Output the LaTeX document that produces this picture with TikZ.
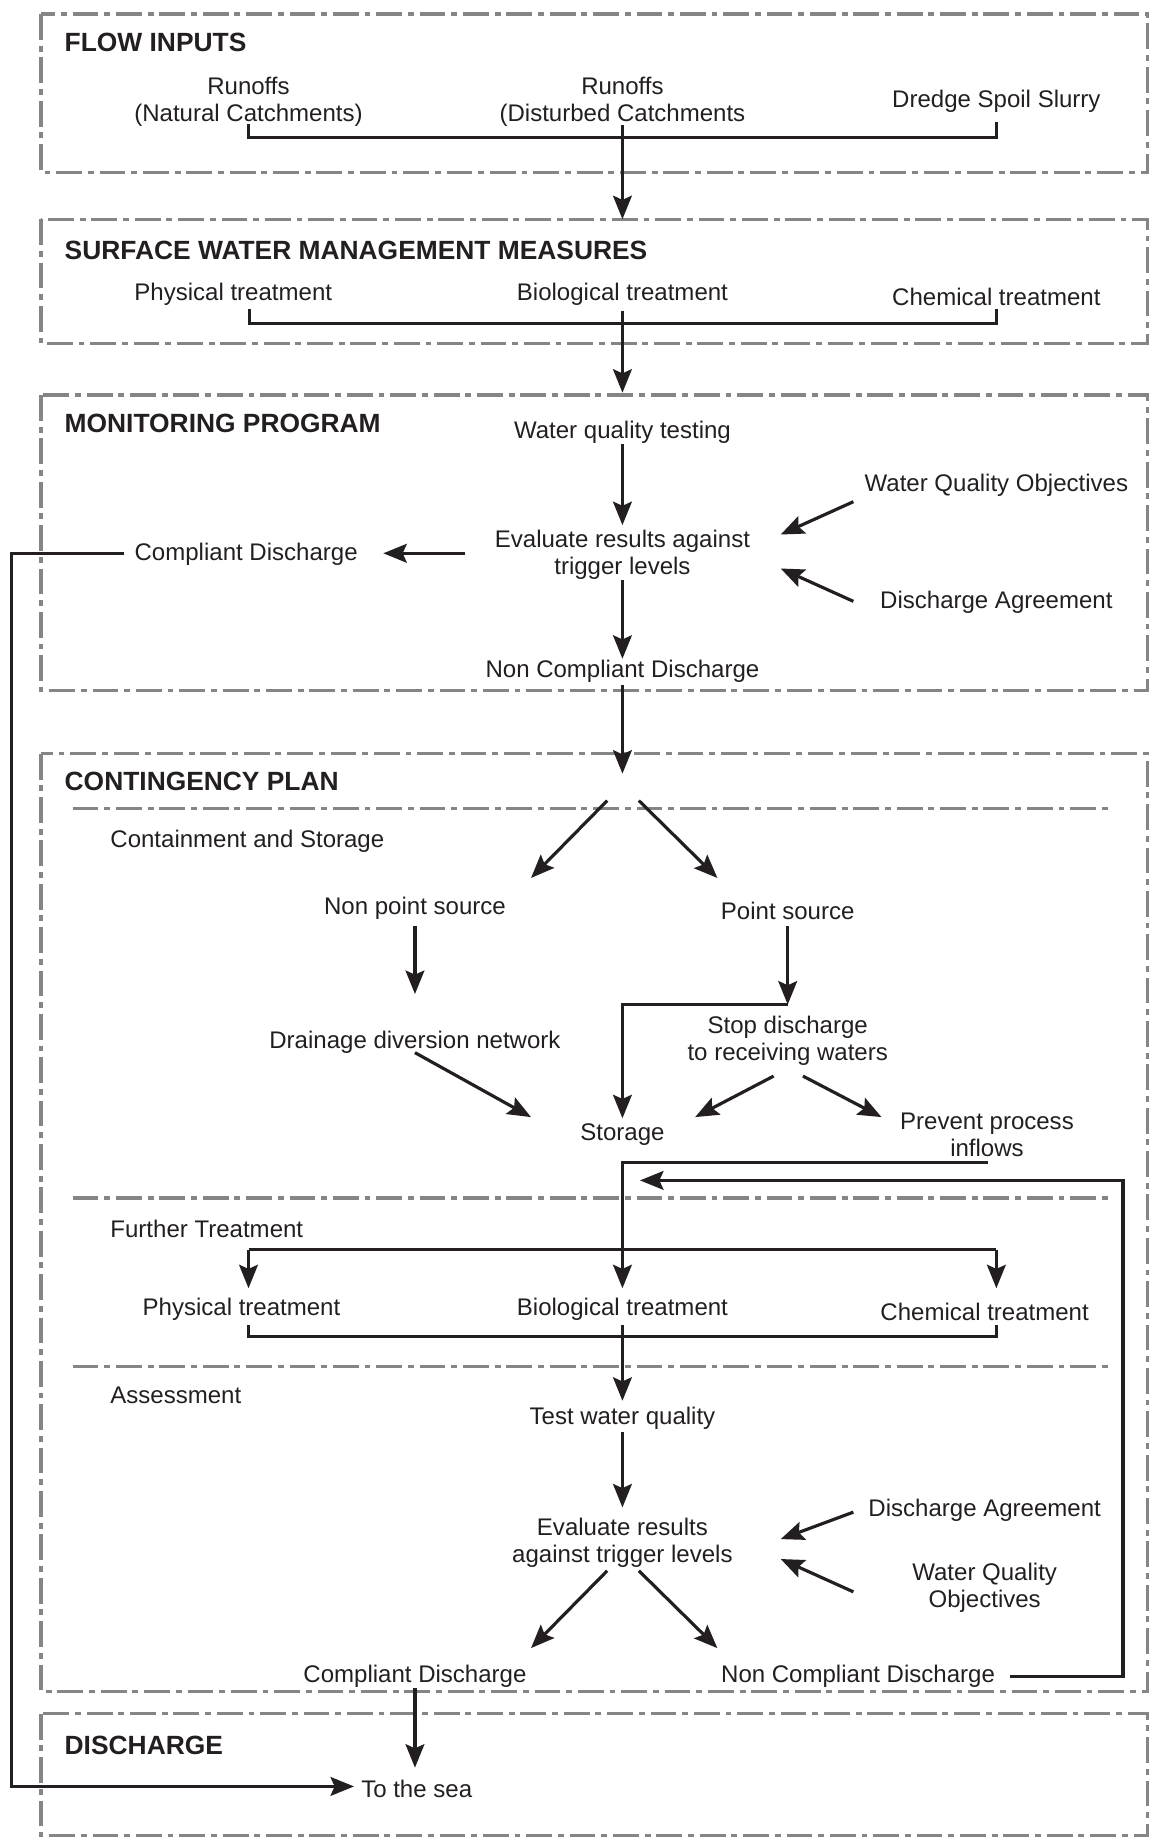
\documentclass[tikz,border=0pt]{standalone}
\usepackage{fontspec}
\setmainfont{Liberation Sans}
\usetikzlibrary{arrows.meta}
\definecolor{boxgray}{HTML}{858585}
\definecolor{ink}{HTML}{231F20}
\tikzset{
  boxline/.style={draw=boxgray, line width=2.8pt, dash pattern=on 22pt off 5pt on 5pt off 5pt},
  ln/.style={draw=ink, line width=2.7pt},
  arr/.style={ln, -{Stealth[length=20pt,width=16pt,inset=3.5pt]}},
  txt/.style={font=\fontsize{20.5}{23}\selectfont, text=ink, inner sep=0pt, align=center},
  ttl/.style={font=\fontsize{22.5}{26}\selectfont\bfseries, text=ink, inner sep=0pt, anchor=west},
  sub/.style={txt, anchor=west},
}
\begin{document}
\begin{tikzpicture}[x=1pt,y=-1pt]
\useasboundingbox (0,0) rectangle (981,1568);
% boxes
\draw[boxline] (35,12) rectangle (979,147);
\draw[boxline] (35,187) rectangle (979,293);
\draw[boxline] (35,337) rectangle (979,589);
\draw[boxline] (35,643) rectangle (979,1443);
\draw[boxline] (35,1462) rectangle (979,1566);
\draw[boxline] (62,690) -- (945,690);
\draw[boxline] (62,1022) -- (945,1022);
\draw[boxline] (62,1166) -- (945,1166);
% titles
\node[ttl] (t1) at (55,36) {FLOW INPUTS};
\node[ttl] (t2) at (55,214) {SURFACE WATER MANAGEMENT MEASURES};
\node[ttl] (t3) at (55,361) {MONITORING PROGRAM};
\node[ttl] (t4) at (55,667) {CONTINGENCY PLAN};
\node[ttl] (t5) at (55,1489) {DISCHARGE};
\node[sub] (s1) at (94,718) {Containment and Storage};
\node[sub] (s2) at (94,1048) {Further Treatment};
\node[sub] (s3) at (94,1190) {Assessment};
% flow inputs
\node[txt] (r1) at (212,87) {Runoffs\\(Natural Catchments)};
\node[txt] (r2) at (531,87) {Runoffs\\(Disturbed Catchments};
\node[txt] (r3) at (850,86) {Dredge Spoil Slurry};
\coordinate (a1) at (212,106); \coordinate (a2) at (212,117);
\coordinate (a3) at (850,117); \coordinate (a4) at (850,104);
\coordinate (a5) at (531,107); \coordinate (a6) at (531,187);
\draw[ln] (a1) -- (a2) -- (a3) -- (a4);
\draw[arr] (a5) -- (a6);
% surface water
\node[txt] (p1) at (199,251) {Physical treatment};
\node[txt] (b1) at (531,251) {Biological treatment};
\node[txt] (c1) at (850,253) {Chemical treatment};
\coordinate (e1) at (213,264); \coordinate (e2) at (213,276);
\coordinate (e3) at (850,276); \coordinate (e4) at (850,264);
\coordinate (e5) at (531,265); \coordinate (e6) at (531,335);
\draw[ln] (e1) -- (e2) -- (e3) -- (e4);
\draw[arr] (e5) -- (e6);
% monitoring
\node[txt] (wqt) at (531,369) {Water quality testing};
\node[txt] (ev1) at (531,473) {Evaluate results against\\trigger levels};
\node[txt] (wqo1) at (850,414) {Water Quality Objectives};
\node[txt] (da1) at (850,514) {Discharge Agreement};
\node[txt] (cd1) at (210,473) {Compliant Discharge};
\node[txt] (ncd1) at (531,573) {Non Compliant Discharge};
\coordinate (m1) at (531,379); \coordinate (m2) at (531,448);
\draw[arr] (m1) -- (m2);
\coordinate (m3) at (531,495); \coordinate (m4) at (531,562);
\draw[arr] (m3) -- (m4);
\coordinate (m5) at (531,584); \coordinate (m6) at (531,660);
\draw[arr] (m5) -- (m6);
\coordinate (m7) at (728,428); \coordinate (m8) at (666,456);
\draw[arr] (m7) -- (m8);
\coordinate (m9) at (728,513); \coordinate (m10) at (666,485);
\draw[arr] (m9) -- (m10);
\coordinate (m11) at (397,472); \coordinate (m12) at (327,472);
\draw[arr] (m11) -- (m12);
\coordinate (q1) at (106,472); \coordinate (q2) at (10,472);
\coordinate (q3) at (10,1524); \coordinate (q4) at (302,1524);
\draw[arr] (q1) -- (q2) -- (q3) -- (q4);
% contingency: containment
\coordinate (k1) at (518,683); \coordinate (k2) at (453,749);
\coordinate (k3) at (545,683); \coordinate (k4) at (612,749);
\draw[arr] (k1) -- (k2);
\draw[arr] (k3) -- (k4);
\node[txt] (nps) at (354,775) {Non point source};
\node[txt] (ps) at (672,777) {Point source};
\coordinate (k5) at (354,790); \coordinate (k6) at (354,848);
\draw[arr] (k5) -- (k6);
\node[txt] (ddn) at (354,889) {Drainage diversion network};
\coordinate (k7) at (354,898); \coordinate (k8) at (453,953);
\draw[arr] (k7) -- (k8);
\coordinate (k9) at (672,790); \coordinate (k10) at (672,857);
\draw[arr] (k9) -- (k10);
\coordinate (k11) at (531,857); \coordinate (k12) at (531,954);
\draw[arr] (k10) -- (k11) -- (k12);
\node[txt] (sd) at (672,888) {Stop discharge\\to receiving waters};
\coordinate (k13) at (660,918); \coordinate (k14) at (593,953);
\coordinate (k15) at (685,918); \coordinate (k16) at (752,953);
\draw[arr] (k13) -- (k14);
\draw[arr] (k15) -- (k16);
\node[txt] (st) at (531,968) {Storage};
\node[txt] (ppi) at (842,968) {Prevent process\\inflows};
\coordinate (k17) at (843,992); \coordinate (k18) at (531,992);
\coordinate (k19) at (531,1099);
\draw[arr] (k17) -- (k18) -- (k19);
% loop back
\coordinate (l1) at (862,1430); \coordinate (l2) at (958,1430);
\coordinate (l3) at (958,1007); \coordinate (l4) at (546,1007);
\draw[arr] (l1) -- (l2) -- (l3) -- (l4);
% further treatment
\coordinate (f1) at (212,1066); \coordinate (f2) at (850,1066);
\coordinate (f3) at (212,1099); \coordinate (f4) at (850,1099);
\draw[arr] (f1) -- (f3);
\draw[arr] (f2) -- (f4);
\draw[ln] (f1) -- (f2);
\node[txt] (p2) at (206,1117) {Physical treatment};
\node[txt] (b2) at (531,1117) {Biological treatment};
\node[txt] (c2) at (840,1119) {Chemical treatment};
\coordinate (g1) at (212,1130); \coordinate (g2) at (212,1140);
\coordinate (g3) at (850,1140); \coordinate (g4) at (850,1130);
\draw[ln] (g1) -- (g2) -- (g3) -- (g4);
\coordinate (g5) at (531,1130); \coordinate (g6) at (531,1195);
\draw[arr] (g5) -- (g6);
% assessment
\node[txt] (twq) at (531,1210) {Test water quality};
\coordinate (h1) at (531,1222); \coordinate (h2) at (531,1286);
\draw[arr] (h1) -- (h2);
\node[txt] (ev2) at (531,1316.5) {Evaluate results\\against trigger levels};
\node[txt] (da2) at (840,1288) {Discharge Agreement};
\node[txt] (wqo2) at (840,1354.5) {Water Quality\\Objectives};
\coordinate (h3) at (728,1290); \coordinate (h4) at (666,1313);
\coordinate (h5) at (728,1358); \coordinate (h6) at (666,1330);
\draw[arr] (h3) -- (h4);
\draw[arr] (h5) -- (h6);
\coordinate (h7) at (518,1340); \coordinate (h8) at (453,1406);
\coordinate (h9) at (545,1340); \coordinate (h10) at (612,1406);
\draw[arr] (h7) -- (h8);
\draw[arr] (h9) -- (h10);
\node[txt] (cd2) at (354,1430) {Compliant Discharge};
\node[txt] (ncd2) at (732,1430) {Non Compliant Discharge};
\coordinate (h11) at (354,1440); \coordinate (h12) at (354,1508);
\draw[arr] (h11) -- (h12);
% discharge
\node[txt, anchor=west] (sea) at (308,1526) {To the sea};
\end{tikzpicture}
\end{document}
